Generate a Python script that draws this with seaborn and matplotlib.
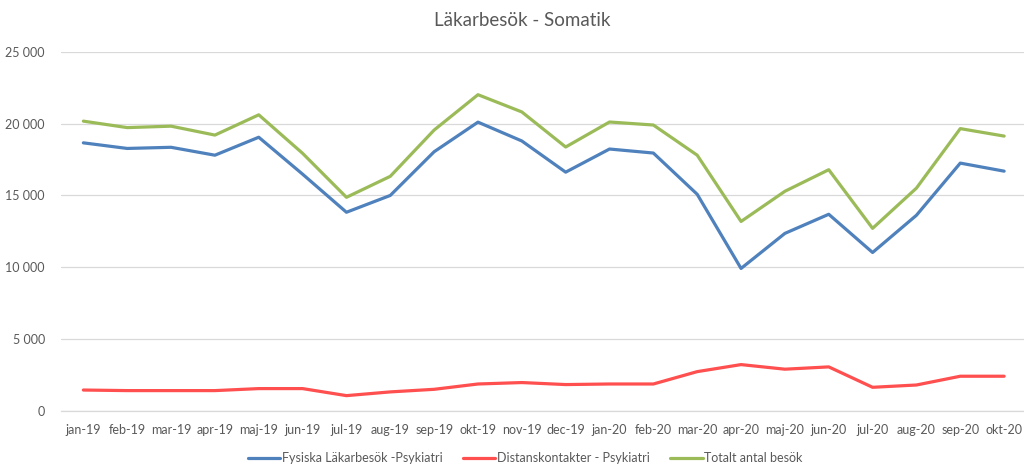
import matplotlib
matplotlib.use("Agg")
import matplotlib.pyplot as plt
import seaborn as sns
import pandas as pd
from matplotlib.ticker import FuncFormatter, MultipleLocator

months = ["jan-19", "feb-19", "mar-19", "apr-19", "maj-19", "jun-19", "jul-19", "aug-19",
          "sep-19", "okt-19", "nov-19", "dec-19", "jan-20", "feb-20", "mar-20", "apr-20",
          "maj-20", "jun-20", "jul-20", "aug-20", "sep-20", "okt-20"]

fysiska = [18660, 18270, 18350, 17800, 19050, 16480, 13830, 15000, 18040, 20100, 18790, 16620,
           18230, 17950, 15080, 9920, 12360, 13690, 11030, 13620, 17250, 16690]
distans = [1460, 1420, 1420, 1420, 1560, 1560, 1070, 1330, 1510, 1880, 1980, 1840,
           1880, 1880, 2740, 3230, 2910, 3070, 1650, 1810, 2420, 2420]
totalt = [20170, 19720, 19820, 19200, 20610, 17930, 14870, 16330, 19550, 22010, 20810, 18370,
          20110, 19900, 17800, 13190, 15290, 16790, 12710, 15510, 19650, 19130]

series_names = ["Fysiska Läkarbesök -Psykiatri", "Distanskontakter - Psykiatri", "Totalt antal besök"]
colors = ["#4F81BD", "#FF4F4F", "#9BBB59"]

df = pd.concat([
    pd.DataFrame({"Månad": months, "Antal": vals, "Serie": name})
    for name, vals in zip(series_names, [fysiska, distans, totalt])
], ignore_index=True)

sns.set_theme(style="white")
plt.rcParams["font.family"] = ["Lato", "DejaVu Sans"]

fig = plt.figure(figsize=(10.24, 4.66), dpi=100)
ax = fig.add_axes([0.060, 0.118, 0.942, 0.771])

sns.lineplot(data=df, x="Månad", y="Antal", hue="Serie", hue_order=series_names,
             palette=colors, linewidth=2.3, sort=False, ax=ax, legend=True)

ax.set_ylim(0, 25000)
ax.set_xlim(-0.5, len(months) - 0.5)
ax.yaxis.set_major_locator(MultipleLocator(5000))
ax.yaxis.set_major_formatter(FuncFormatter(lambda v, p: f"{int(v):,}".replace(",", " ")))
ax.grid(axis="y", color="#D9D9D9", linewidth=0.9)
ax.grid(axis="x", visible=False)
ax.set_axisbelow(True)
for s in ["top", "right", "left"]:
    ax.spines[s].set_visible(False)
ax.spines["bottom"].set_color("#D9D9D9")
ax.spines["bottom"].set_linewidth(0.9)
ax.tick_params(axis="both", length=0, colors="#595959", labelsize=9)
ax.tick_params(axis="y", pad=12)
ax.tick_params(axis="x", pad=9)
ax.set_xlabel("")
ax.set_ylabel("")

fig.text(0.51, 0.955, "Läkarbesök - Somatik", ha="center", va="center",
         fontsize=13.5, color="#595959")

handles, labels = ax.get_legend_handles_labels()
ax.legend_.remove()
fig.legend(handles, labels, loc="center", bbox_to_anchor=(0.513, 0.017), ncol=3,
           frameon=False, fontsize=9, handlelength=2.6, handletextpad=0.15,
           columnspacing=1.6, labelcolor="#595959")

fig.savefig("out.png", dpi=100)
